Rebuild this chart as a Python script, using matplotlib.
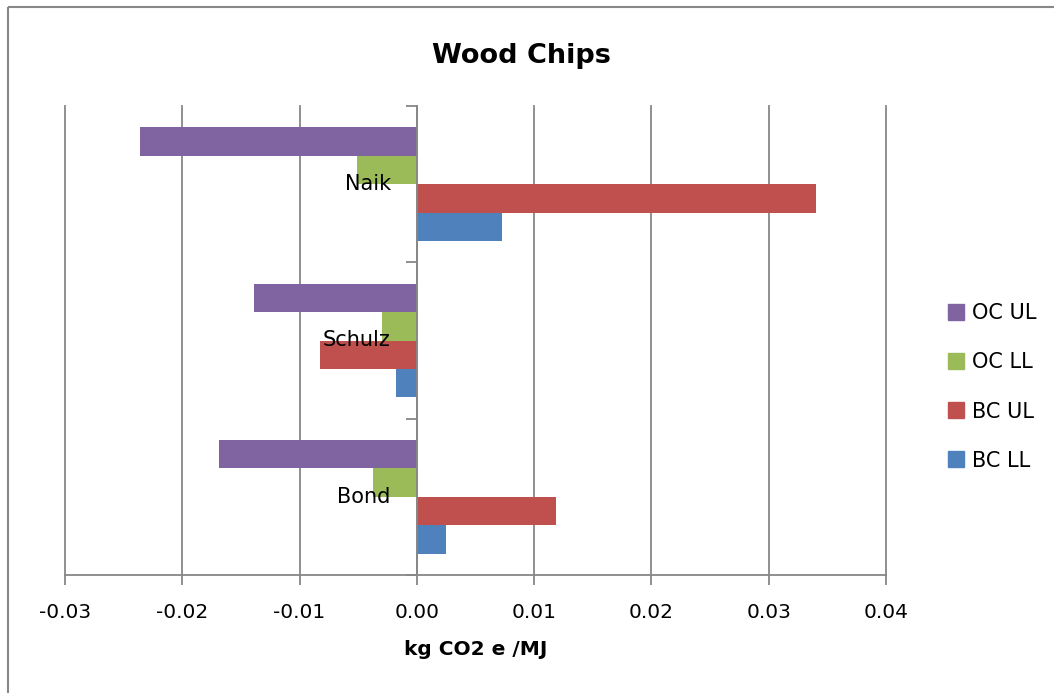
import matplotlib
matplotlib.use("Agg")
import matplotlib.pyplot as plt
from matplotlib.lines import Line2D
import numpy as np

plt.rcParams["font.family"] = ["DejaVu Sans"]

# wood chip emission factors, kg CO2 e / MJ
studies = ["Bond", "Schulz", "Naik"]
oc_ul = [-0.0169, -0.0139, -0.0236]
oc_ll = [-0.0037, -0.0030, -0.0051]
bc_ul = [0.0119, -0.0083, 0.0340]
bc_ll = [0.0025, -0.0018, 0.0073]

series = [
    ("OC UL", oc_ul, "#8064A2"),
    ("OC LL", oc_ll, "#9BBB59"),
    ("BC UL", bc_ul, "#C0504D"),
    ("BC LL", bc_ll, "#4F81BD"),
]
grid_col = "#878787"

fig = plt.figure(figsize=(10.54, 6.93), dpi=100)
ax = fig.add_axes([65 / 1054, 118 / 693, 821 / 1054, 469 / 693])

y = np.arange(len(studies))
h = 1 / 5.5
for i, (name, vals, col) in enumerate(series):
    # first series sits at the top of each group
    ax.barh(y + (1.5 - i) * h, vals, height=h, color=col, zorder=2)

ax.set_xlim(-0.03, 0.04)
ax.set_ylim(-0.5, len(studies) - 0.5)

ticks = np.arange(-0.03, 0.041, 0.01)
ax.set_xticks(ticks)
ax.set_xticklabels([f"{v:.2f}" for v in ticks])
ax.tick_params(axis="x", length=7, width=1.3, color=grid_col, pad=13, labelsize=14.5)
ax.grid(axis="x", color=grid_col, lw=1.3, zorder=0)
ax.set_axisbelow(True)
for gl in ax.get_xgridlines():
    gl.set_clip_on(False)

# category axis sits on zero with ticks between groups
ax.spines["left"].set_position(("data", 0))
ax.spines["left"].set_color(grid_col)
ax.spines["left"].set_linewidth(1.3)
ax.spines["left"].set_zorder(3)
ax.spines["bottom"].set_color(grid_col)
ax.spines["bottom"].set_linewidth(1.3)
ax.spines["top"].set_visible(False)
ax.spines["right"].set_visible(False)
ax.set_yticks(np.arange(-0.5, len(studies), 1.0))
ax.set_yticklabels([])
ax.tick_params(axis="y", length=8, width=1.3, color=grid_col)

for yi, name in zip(y, studies):
    ax.annotate(name, (0, yi), xytext=(-26, 0), textcoords="offset pixels",
                ha="right", va="center", fontsize=15, zorder=5)

ax.set_xlabel("kg CO2 e /MJ", fontsize=14.5, fontweight="bold", labelpad=13)
fig.text(521 / 1054, 1 - 56 / 693, "Wood Chips", ha="center", va="center",
         fontsize=19.5, fontweight="bold")

handles = [Line2D([], [], marker="s", ls="none", markersize=11,
                  markerfacecolor=c, markeredgecolor=c) for _, _, c in series]
fig.legend(handles, [s[0] for s in series], loc="center left",
           bbox_to_anchor=(948 / 1054, 1 - 387 / 693), frameon=False,
           fontsize=15, handlelength=0.8, handletextpad=0.35,
           labelspacing=1.4, borderpad=0, borderaxespad=0)

# outer chart border (left and top edges)
fig.add_artist(Line2D([8 / 1054, 8 / 1054], [-0.01, 1 - 7 / 693],
                      transform=fig.transFigure, color=grid_col, lw=1.5,
                      solid_capstyle="butt"))
fig.add_artist(Line2D([8 / 1054, 1.01], [1 - 7 / 693, 1 - 7 / 693],
                      transform=fig.transFigure, color=grid_col, lw=1.5,
                      solid_capstyle="butt"))

fig.savefig("out.png", dpi=100)
